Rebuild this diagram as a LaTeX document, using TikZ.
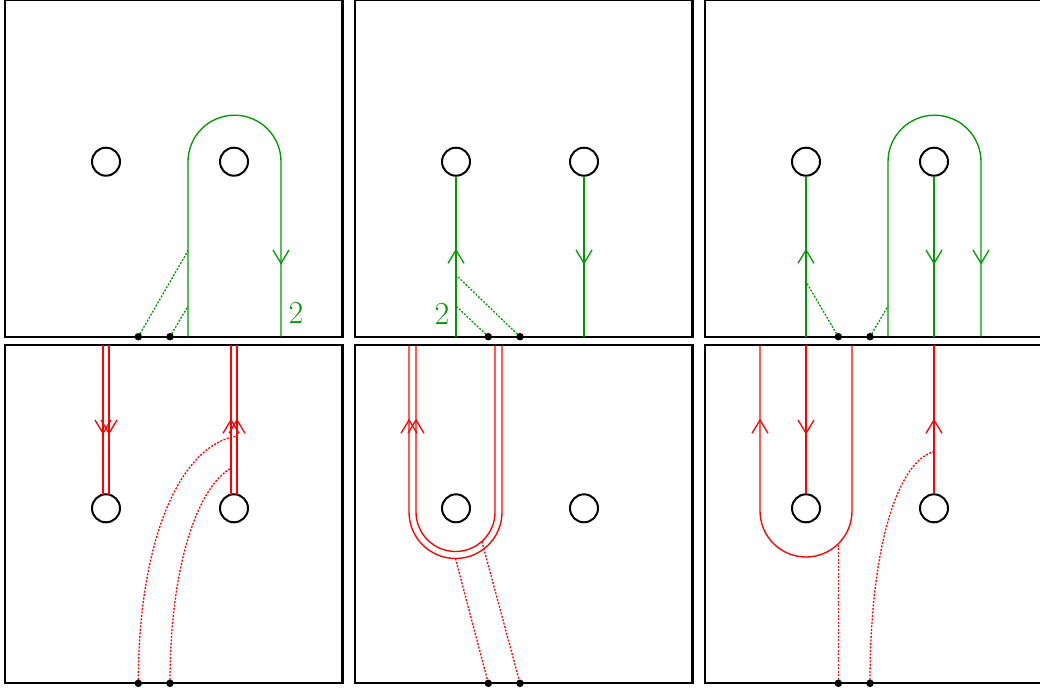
\documentclass[tikz,border=0pt]{standalone}
\usetikzlibrary{calc}
\definecolor{gr}{RGB}{0,153,0}
\definecolor{rd}{RGB}{255,0,0}
\newcommand{\myDownV}[3]{\draw[#1,line width=1.3pt] (#2,#3) ++(-8,-13.3) -- ++(8,13.3) -- ++(8,-13.3);}
\newcommand{\myUpV}[3]{\draw[#1,line width=1.3pt] (#2,#3) ++(-8,13.3) -- ++(8,-13.3) -- ++(8,13.3);}
\begin{document}
\begin{tikzpicture}[x=1pt,y=-1pt,
  panel/.style={draw=black,line width=2.2pt},
  hole/.style={circle,draw=black,line width=2pt,inner sep=0pt,minimum size=28pt},
  gline/.style={gr,line width=1.35pt},
  rline/.style={rd,line width=1.35pt},
  dotl/.style={line width=1.3pt,dash pattern=on 2pt off 1.5pt},
  pnt/.style={circle,fill=black,inner sep=0pt,minimum size=7.5pt},
  glabel/.style={text=gr,inner sep=0pt,font=\fontsize{32}{34}\selectfont}]
\useasboundingbox (0,0) rectangle (1040,690);
% panels
\draw[panel] (5,0.3) rectangle (342.5,336.7);
\draw[panel] (355,0.3) rectangle (692.5,336.7);
\draw[panel] (705,0.3) rectangle (1042.5,336.7);
\draw[panel] (5,345.3) rectangle (342.5,683.3);
\draw[panel] (355,345.3) rectangle (692.5,683.3);
\draw[panel] (705,345.3) rectangle (1042.5,683.3);
% holes
\node[hole] (h1a) at (106,161.7) {};
\node[hole] (h1b) at (234,161.7) {};
\node[hole] (h2a) at (456,161.7) {};
\node[hole] (h2b) at (584,161.7) {};
\node[hole] (h3a) at (806,161.7) {};
\node[hole] (h3b) at (934,161.7) {};
\node[hole] (h4a) at (106,508.3) {};
\node[hole] (h4b) at (234,508.3) {};
\node[hole] (h5a) at (456,508.3) {};
\node[hole] (h5b) at (584,508.3) {};
\node[hole] (h6a) at (806,508.3) {};
\node[hole] (h6b) at (934,508.3) {};
% marked points
\coordinate (d1a) at (138.3,336.7); \coordinate (d1b) at (170,336.7);
\coordinate (d2a) at (488.3,336.7); \coordinate (d2b) at (520,336.7);
\coordinate (d3a) at (838.3,336.7); \coordinate (d3b) at (870,336.7);
\coordinate (d4a) at (138.3,683.3); \coordinate (d4b) at (170,683.3);
\coordinate (d5a) at (488.3,683.3); \coordinate (d5b) at (520,683.3);
\coordinate (d6a) at (838.3,683.3); \coordinate (d6b) at (870,683.3);

% ---------- panel 1 ----------
\draw[gline] (188,336.7) -- (188,161.7) arc[start angle=180,end angle=360,radius=46.5] -- (281,336.7);
\myDownV{gr}{281}{263.3}
\node[glabel] (l1) at (296,312.7) {2};
\draw[gr,dotl] (d1a) -- (188,250.7);
\draw[gr,dotl] (d1b) -- (188,306);

% ---------- panel 2 ----------
\draw[gline] (h2a.south) -- (456,336.7);
\myUpV{gr}{456}{250}
\draw[gline] (h2b.south) -- (584,336.7);
\myDownV{gr}{584}{263.3}
\node[glabel] (l2) at (442,314) {2};
\draw[gr,dotl] (d2a) -- (456,306);
\draw[gr,dotl] (d2b) -- (456,275);

% ---------- panel 3 ----------
\draw[gline] (h3a.south) -- (806,336.7);
\myUpV{gr}{806}{250}
\draw[gr,dotl] (d3a) -- (806,281.7);
\draw[gr,dotl] (d3b) -- (888,306);
\draw[gline] (888,336.7) -- (888,161.7) arc[start angle=180,end angle=360,radius=46.5] -- (981,336.7);
\myDownV{gr}{981}{263.3}
\draw[gline] (h3b.south) -- (934,336.7);
\myDownV{gr}{934}{263.3}

% ---------- panel 4 ----------
\draw[rline] (103,345.3) -- (103,494.6);
\draw[rline] (109,345.3) -- (109,494.6);
\myDownV{rd}{103}{433.3}
\myDownV{rd}{109}{433.3}
\draw[rline] (231,345.3) -- (231,494.6);
\draw[rline] (237,345.3) -- (237,494.6);
\myUpV{rd}{231}{420}
\myUpV{rd}{237}{420}
\draw[rd,dotl] (d4a) .. controls (138.3,540) and (180,445) .. (237,436);
\draw[rd,dotl] (d4b) .. controls (170,560) and (200,485) .. (231,468.3);

% ---------- panel 5 ----------
\draw[rline] (409,345.3) -- (409,512) arc[start angle=180,end angle=0,radius=46.5] -- (502,345.3);
\draw[rline] (416,345.3) -- (416,512) arc[start angle=180,end angle=0,radius=39.5] -- (495,345.3);
\myUpV{rd}{409}{420}
\myUpV{rd}{416}{420}
\draw[rd,dotl] (455.5,558.5) -- (d5a);
\draw[rd,dotl] (481.9,541.5) -- (d5b);

% ---------- panel 6 ----------
\draw[rline] (760,345.3) -- (760,511) arc[start angle=180,end angle=0,radius=46] -- (852,345.3);
\myUpV{rd}{760}{420}
\draw[rline] (806,345.3) -- (h6a.north);
\myDownV{rd}{806}{433.3}
\draw[rline] (934,345.3) -- (h6b.north);
\myUpV{rd}{934}{420}
\draw[rd,dotl] (838.3,544.5) -- (d6a);
\draw[rd,dotl] (d6b) .. controls (870,540) and (900,460) .. (934,451.7);

% points on top
\foreach \p in {d1a,d1b,d2a,d2b,d3a,d3b,d4a,d4b,d5a,d5b,d6a,d6b}
  \node[pnt] (n\p) at (\p) {};
\end{tikzpicture}
\end{document}
